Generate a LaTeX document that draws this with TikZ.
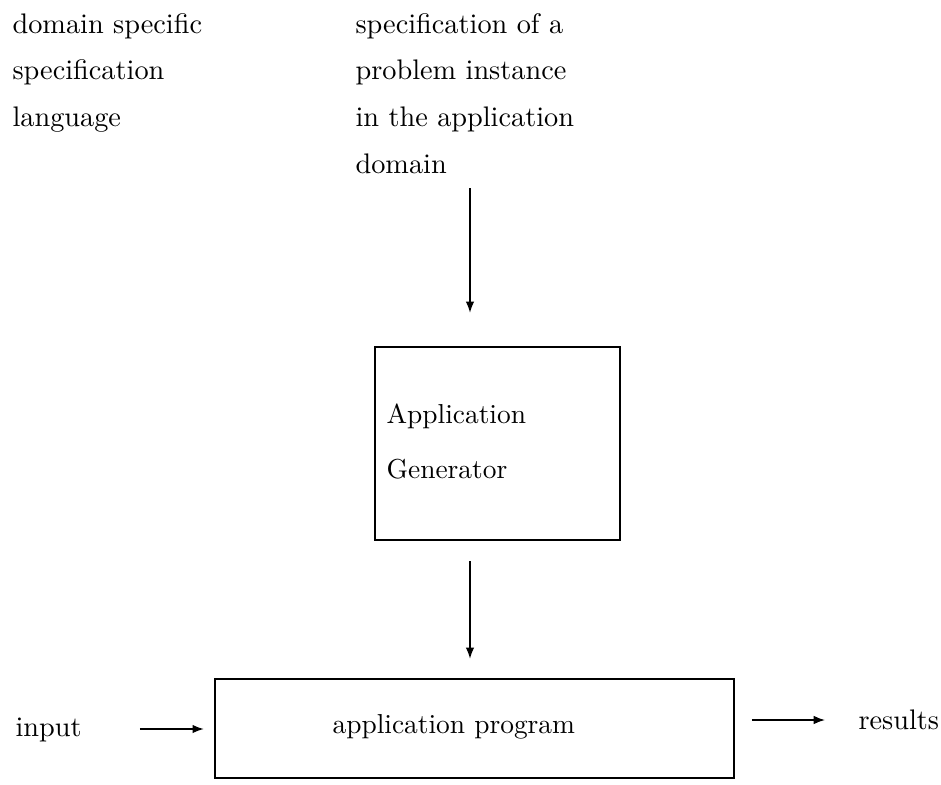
\documentclass[tikz,border=0pt]{standalone}
\usetikzlibrary{arrows.meta}
\begin{document}
\begin{tikzpicture}[x=0.35pt,y=-0.35pt,
  every node/.style={inner sep=0pt, font=\fontsize{9.9}{12}\selectfont},
  lbl/.style={anchor=base west},
  boxtxt/.style={anchor=base west, font=\fontsize{9.6}{12}\selectfont},
  box/.style={draw, line width=0.75pt, inner sep=0pt},
  arr/.style={line width=0.6pt, -{Latex[length=4pt,width=3pt]}}]
\useasboundingbox (0,0) rectangle (941,785);
% left text column
\node[lbl] (l1) at (12,33) {domain specific};
\node[lbl] (l2) at (12,79) {specification};
\node[lbl] (l3) at (12,126) {language};
% right text column
\node[lbl] (r1) at (355,33) {specification of a};
\node[lbl] (r2) at (355,79) {problem instance};
\node[lbl] (r3) at (355,126) {in the application};
\node[lbl] (r4) at (355,173) {domain};
% generator box
\node[box, minimum width=85.75pt, minimum height=67.55pt] (gen) at (497.5,443.5) {};
\node[boxtxt] (g1) at (386,423) {Application};
\node[boxtxt] (g2) at (386,478) {Generator};
% application program box
\node[box, minimum width=181.65pt, minimum height=34.65pt] (app) at (474.5,728.5) {};
\node[boxtxt] (ap) at (332,733) {application program};
% side labels
\node[lbl] (in) at (15,736) {input};
\node[lbl] (res) at (858,729) {results};
% connectors
\coordinate (a1s) at (470,188);
\draw[arr, shorten >=11.55pt] (a1s) -- (a1s |- gen.north);
\draw[arr, shorten <=7pt, shorten >=6.65pt] (gen.south -| a1s) -- (app.north -| a1s);
\coordinate (ia) at (140,729);
\draw[arr, shorten >=3.5pt] (ia) -- (ia -| app.west);
\coordinate (ra) at (752,720);
\draw[arr, shorten >=11.5pt] (ra) -- (ra -| res.west);
\end{tikzpicture}
\end{document}
